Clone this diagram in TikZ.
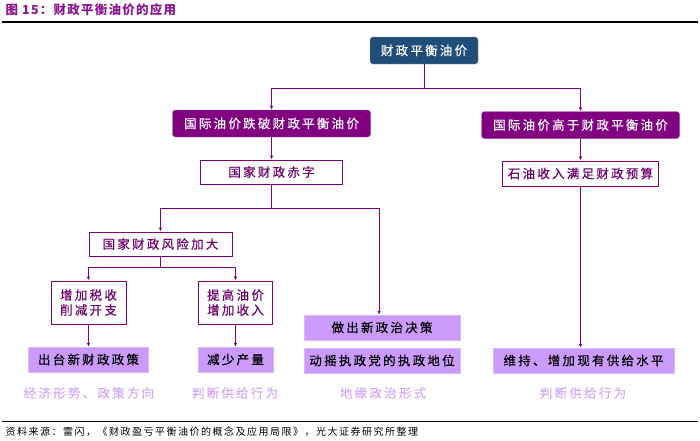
\documentclass[tikz,border=0pt]{standalone}
\usepackage{fontspec}
\setmainfont{Noto Sans CJK SC}
\usetikzlibrary{arrows.meta}
\definecolor{finblue}{RGB}{33,78,120}
\definecolor{plum}{RGB}{128,0,128}
\definecolor{lilac}{RGB}{202,155,250}
\definecolor{mist}{RGB}{212,172,246}
\definecolor{titleplum}{RGB}{140,20,140}
\newcommand{\boxfont}{\fontsize{12.5}{15}\selectfont\addfontfeature{LetterSpace=18,FakeBold=0.4}}
\tikzset{
  topbox/.style={fill=finblue,draw=finblue!60!white,rounded corners=3pt,text=white,font=\boxfont,minimum height=27pt},
  casebox/.style={fill=plum,draw=plum!70!white,rounded corners=3pt,text=white,font=\boxfont,minimum height=27pt,minimum width=198pt},
  stagebox/.style={fill=white,draw=plum,line width=1pt,text=plum!85!black,font=\boxfont,minimum height=24pt},
  endbox/.style={fill=lilac,draw=lilac!70!white,text=black,font=\boxfont,minimum height=25pt},
  note/.style={text=mist,font=\boxfont},
  link/.style={draw=plum,line width=0.9pt,-{Latex[length=4pt,width=3.5pt]}}
}
\begin{document}
\begin{tikzpicture}[x=1pt,y=-1pt]
\useasboundingbox (0,0) rectangle (700,440);
\node[anchor=west,text=titleplum,font=\fontsize{12.5}{15}\selectfont\bfseries\addfontfeature{LetterSpace=10}] (title) at (2,10) {图 15：财政平衡油价的应用};
\draw[line width=1.3pt] (2,22) -- (698,22);
\node[topbox,minimum width=108pt] (fin) at (424,50.5) {财政平衡油价};
\node[casebox] (drop) at (271.5,123.5) {国际油价跌破财政平衡油价};
\node[casebox] (high) at (580.5,125) {国际油价高于财政平衡油价};
\node[stagebox,minimum width=142pt] (deficit) at (271.5,172) {国家财政赤字};
\node[stagebox,minimum width=156pt,minimum height=25pt] (budget) at (580.5,173.5) {石油收入满足财政预算};
\node[stagebox,minimum width=143pt] (risk) at (160.5,244) {国家财政风险加大};
\node[stagebox,minimum width=75pt,minimum height=43pt,align=center] (tax) at (88.5,302.5) {增加税收\\削减开支};
\node[stagebox,minimum width=74pt,minimum height=43pt,align=center] (raise) at (235.5,302.5) {提高油价\\增加收入};
\node[endbox,minimum width=120pt] (policy) at (88.5,359.5) {出台新财政政策};
\node[endbox,minimum width=75pt] (cut) at (235.5,359.5) {减少产量};
\node[endbox,minimum width=156pt] (decide) at (382,327.5) {做出新政治决策};
\node[endbox,minimum width=156pt] (shake) at (382,360.5) {动摇执政党的执政地位};
\node[endbox,minimum width=181pt] (keep) at (583.5,360.5) {维持、增加现有供给水平};
\node[note] (econ) at (89,393) {经济形势、政策方向};
\node[note] (supplyl) at (235,393) {判断供给行为};
\node[note] (geo) at (383,393) {地缘政治形式};
\node[note] (supplyr) at (583,393) {判断供给行为};
\coordinate (b1) at (424,88);
\coordinate (b2) at (271.5,208);
\coordinate (b3) at (379,208);
\coordinate (b4) at (160.5,267);
\draw[link] (fin.south) -- (b1) -| (drop.north);
\draw[link] (b1) -| (high.north);
\draw[link] (drop.south) -- (deficit.north);
\draw[link] (high.south) -- (budget.north);
\draw[link] (deficit.south) -- (b2) -| (risk.north);
\draw[link] (b2) -- (b3) -- (b3 |- decide.north);
\draw[link] (risk.south) -- (b4) -| (tax.north);
\draw[link] (b4) -| (raise.north);
\draw[link] (tax.south) -- (policy.north);
\draw[link] (raise.south) -- (cut.north);
\draw[link] (budget.south) -- (budget.south |- keep.north);
\draw[line width=0.9pt] (2,421) -- (698,421);
\node[anchor=west,font=\fontsize{10}{12}\selectfont\addfontfeature{LetterSpace=15}] (source) at (2,432) {资料来源：雷闪，《财政盈亏平衡油价的概念及应用局限》，光大证券研究所整理};
\end{tikzpicture}
\end{document}
